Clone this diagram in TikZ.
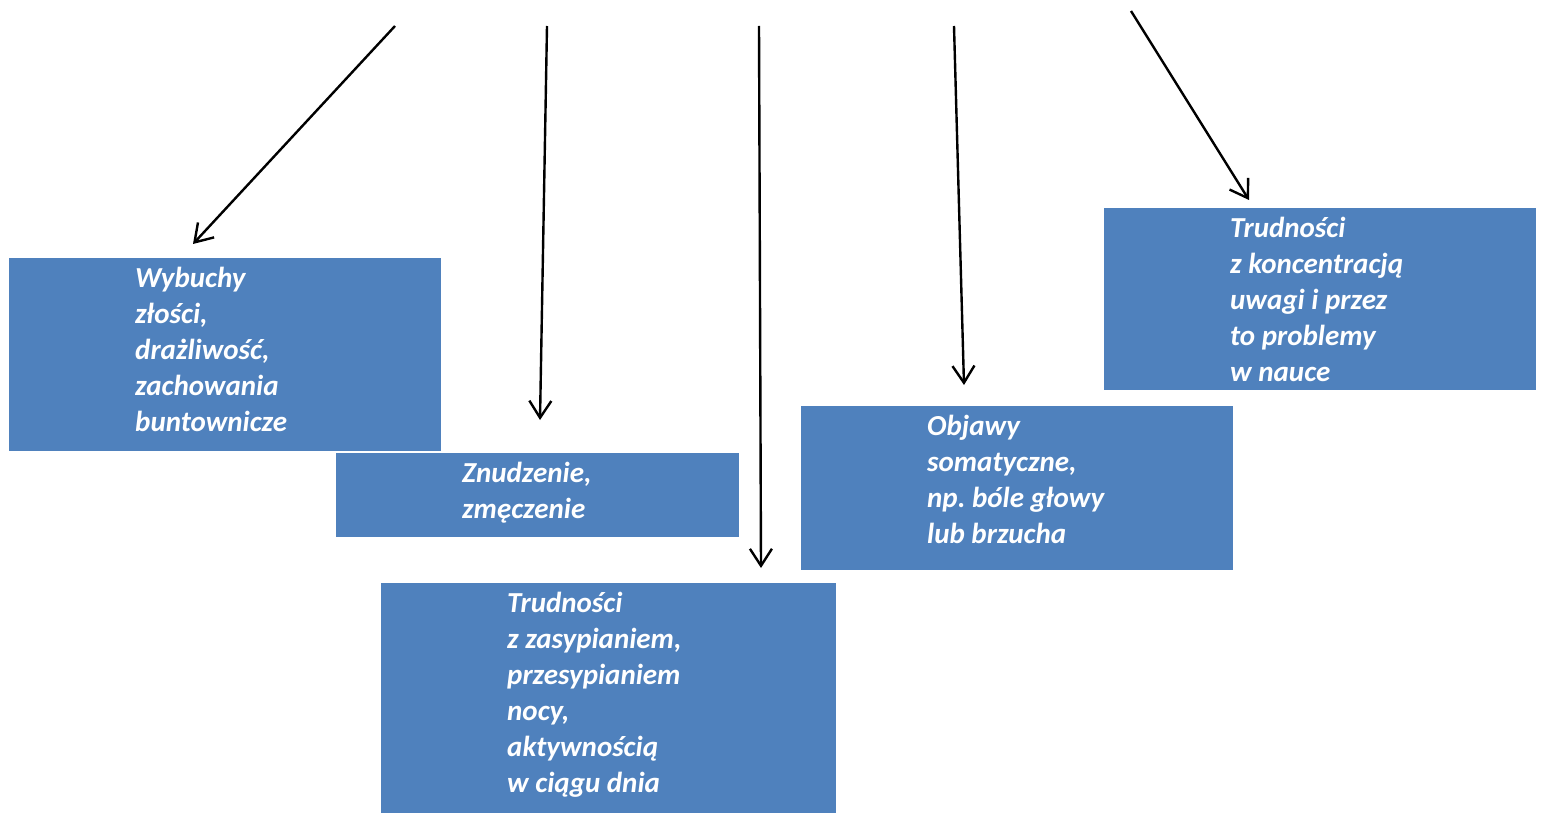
\documentclass[tikz,border=0pt]{standalone}
\usepackage{fontspec}
\setmainfont{Carlito}
\usetikzlibrary{calc}
\usetikzlibrary{arrows.meta}
\definecolor{boxblue}{HTML}{4F81BD}

\begin{document}
\begin{tikzpicture}[x=1pt,y=-1pt,
	box/.style={fill=boxblue,draw=none,inner sep=0pt,anchor=north west},
	txt/.style={text=white,inner sep=0pt,anchor=north west,align=left,
		font=\fontsize{29}{36}\selectfont\bfseries\itshape},
	arr/.style={line width=2.4pt,-{Straight Barb[length=17pt,width=22pt,line width=2.4pt]}}]
	\useasboundingbox (0,0) rectangle (1542,813);
	\node[box,minimum width=432pt,minimum height=193pt] (anger) at (9,258) {};
	\node[box,minimum width=403pt,minimum height=84pt] (bored) at (336,453) {};
	\node[box,minimum width=455pt,minimum height=230pt] (sleep) at (381,583) {};
	\node[box,minimum width=432pt,minimum height=164pt] (soma) at (801,406) {};
	\node[box,minimum width=432pt,minimum height=182pt] (focus) at (1104,208) {};
	\node[txt] (angertxt) at ($(anger.north west)+(126,9)$) {Wybuchy\\złości,\\drażliwość,\\zachowania\\buntownicze};
	\node[txt] (boredtxt) at ($(bored.north west)+(126,9)$) {Znudzenie,\\zmęczenie};
	\node[txt] (sleeptxt) at ($(sleep.north west)+(126,9)$) {Trudności\\z zasypianiem,\\przesypianiem\\nocy,\\aktywnością\\w ciągu dnia};
	\node[txt] (somatxt) at ($(soma.north west)+(126,9)$) {Objawy\\somatyczne,\\np.\ bóle głowy\\lub brzucha};
	\node[txt] (focustxt) at ($(focus.north west)+(126,9)$) {Trudności\\z koncentracją\\uwagi i przez\\to problemy\\w nauce};
	\coordinate (s1) at (395,26);
	\coordinate (s2) at (547,26);
	\coordinate (s3) at (759,26);
	\coordinate (s4) at (954,26);
	\coordinate (s5) at (1131,11);
	\coordinate (e1) at (193,244);
	\coordinate (e2) at (540,420);
	\coordinate (e3) at (761,568);
	\coordinate (e4) at (964,385);
	\coordinate (e5) at (1249,200);
	\draw[arr] (s1) -- (e1);
	\draw[arr] (s2) -- (e2);
	\draw[arr] (s3) -- (e3);
	\draw[arr] (s4) -- (e4);
	\draw[arr] (s5) -- (e5);
\end{tikzpicture}
\end{document}
